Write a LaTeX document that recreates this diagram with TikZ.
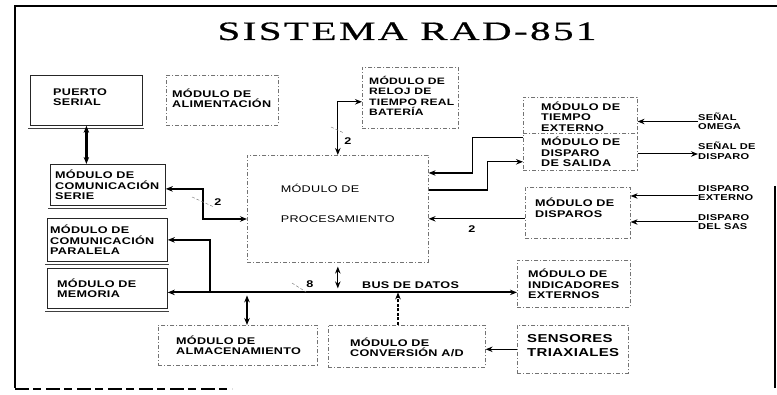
\documentclass[tikz,border=0pt]{standalone}
\usepackage{fontspec}
\setmainfont{Liberation Sans}
\newfontfamily\lblf[FakeStretch=1.3,LetterSpace=3]{Liberation Sans}
\newfontfamily\ttlf[FakeStretch=1.55,LetterSpace=9,FakeBold=0.6]{Liberation Serif}
\usetikzlibrary{arrows.meta,calc}
\tikzset{
  solidbox/.style={draw=black!85, line width=0.8pt, inner sep=0pt},
  dashbox/.style={draw=black!55, line width=0.6pt, dash pattern=on 4pt off 2pt on 1pt off 2pt, inner sep=0pt},
  lbl/.style={font=\lblf\bfseries\fontsize{9.7}{10.5}\selectfont, align=left, inner sep=0pt},
  extlbl/.style={font=\lblf\bfseries\fontsize{8.5}{9.5}\selectfont, align=left, inner sep=0pt, anchor=west},
  conn/.style={line width=1.3pt, ->},
  dconn/.style={line width=1.3pt, <->},
  extarrow/.style={line width=1pt, ->},
  slash/.style={black!50, line width=0.5pt, dash pattern=on 3pt off 2pt},
  shadowline/.style={black!75, line width=0.8pt}
}
\newcommand{\blk}[9]{%
  \node[#2, minimum width=#5pt, minimum height=#6pt, anchor=north west] (#1) at (#3,#4) {};
  \node[lbl, anchor=west] (#1-t) at ([xshift=#7pt,yshift=#8pt]#1.west) {#9};}
\begin{document}
\begin{tikzpicture}[x=1pt,y=-1pt, >={Stealth[length=7pt,width=5.5pt]}]
\useasboundingbox (0,0) rectangle (777,395);
% frame
\draw[line width=1.3pt] (15,388) -- (15,6) -- (777,6);
\draw[line width=1.3pt] (775,186) -- (775,388);
\draw[line width=1.5pt, dash pattern=on 14pt off 4pt on 8pt off 5pt] (15,389) -- (232,389);
% title
\node[font=\ttlf\fontsize{26.5}{30}\selectfont, anchor=base, inner sep=0pt] (title) at (407,40) {SISTEMA RAD-851};
% blocks
\blk{puerto}{solidbox}{30}{75}{112}{50}{23}{3}{PUERTO\\SERIAL}
\blk{alim}{dashbox}{166}{75}{112}{50}{6}{2}{MÓDULO DE\\ALIMENTACIÓN}
\node[dashbox, minimum width=96pt, minimum height=61pt, anchor=north west] (reloj) at (362,67) {};
\node[lbl, font=\lblf\bfseries\fontsize{9.3}{10.5}\selectfont, anchor=west] (reloj-t) at ([xshift=7pt,yshift=2pt]reloj.west) {MÓDULO DE\\RELOJ DE\\TIEMPO REAL\\BATERÍA};
\blk{tiempo}{dashbox}{523}{97}{114}{36}{18}{-1}{MÓDULO DE\\TIEMPO\\EXTERNO}
\blk{salida}{dashbox}{523}{133}{114}{37}{18}{0}{MÓDULO DE\\DISPARO\\DE SALIDA}
\blk{disp}{dashbox}{525}{187}{105}{51}{10}{5}{MÓDULO DE\\DISPAROS}
\blk{serie}{solidbox}{50}{164}{115}{41}{5}{0}{MÓDULO DE\\COMUNICACIÓN\\SERIE}
\blk{paral}{solidbox}{47}{218}{120}{43}{3}{0}{MÓDULO DE\\COMUNICACIÓN\\PARALELA}
\blk{memo}{solidbox}{47}{268}{120}{40}{10}{0}{MÓDULO DE\\MEMORIA}
\blk{almac}{dashbox}{158}{325}{159}{40}{18}{0}{MÓDULO DE\\ALMACENAMIENTO}
\blk{conv}{dashbox}{328}{325}{157}{42}{22}{-1}{MÓDULO DE\\CONVERSIÓN A/D}
\blk{ind}{dashbox}{517}{260}{113}{47}{11}{0}{MÓDULO DE\\INDICADORES\\EXTERNOS}
\node[dashbox, minimum width=111pt, minimum height=48pt, anchor=north west] (sens) at (517,325) {};
\node[lbl, font=\lblf\bfseries\fontsize{11.5}{14}\selectfont, anchor=west] (sens-t) at ([xshift=10pt,yshift=4pt]sens.west) {SENSORES\\TRIAXIALES};
\node[dashbox, minimum width=181pt, minimum height=107pt, anchor=north west] (proc) at (247,155) {};
\node[lbl, font=\lblf\fontsize{9.7}{30}\selectfont, anchor=center] (proc-t) at ([yshift=5pt]proc.center) {MÓDULO DE\\PROCESAMIENTO};
% shadows of solid boxes
\foreach \b in {puerto,serie,paral,memo}{
  \draw[shadowline] ([xshift=-2pt,yshift=-2.5pt]\b.south west) -- ([xshift=1pt,yshift=-2.5pt]\b.south east);
}
% external labels
\node[extlbl] (omega) at (698,121.5) {SEÑAL\\OMEGA};
\node[extlbl] (sdisp) at (698,151) {SEÑAL DE\\DISPARO};
\node[extlbl] (dext) at (698,193) {DISPARO\\EXTERNO};
\node[extlbl] (dsas) at (698,222) {DISPARO\\DEL SAS};
\draw[extarrow] (omega.west) -- (tiempo.east |- omega.west);
\coordinate (sd) at ([yshift=-3pt]sdisp.west);
\draw[extarrow] (salida.east |- sd) -- (sd);
\coordinate (de) at ([yshift=-3pt]dext.west);
\draw[extarrow] (de) -- (disp.east |- de);
\draw[extarrow] (dsas.west) -- (disp.east |- dsas.west);
% tiempo -> proc
\coordinate (p1) at ([yshift=-18pt]proc.north east);
\coordinate (j1) at ([xshift=44pt]p1);
\coordinate (t3) at ([yshift=-4pt]tiempo.south west);
\draw[conn] (t3) -| (j1) -- (p1);
% proc -> salida
\coordinate (p2) at ([yshift=-35pt]proc.north east);
\coordinate (q2) at ([yshift=-10pt]salida.west);
\coordinate (j2) at ([xshift=59pt]p2);
\draw[conn] (p2) -| (j2 |- q2) -- (q2);
% disparos -> proc
\coordinate (d5) at ([yshift=-6pt]disp.west);
\draw[conn] (d5) -- (proc.east |- d5);
\node[lbl] (n2c) at (472,229) {2};
% reloj <-> proc
\coordinate (r1) at ([yshift=-4pt]reloj.west);
\draw[dconn] (proc.north) |- (r1);
\node[lbl] (n2a) at (348,141) {2};
\draw[slash] (331,127) -- (344,133);
% serie <-> proc
\coordinate (a7) at ([yshift=-4pt]serie.east);
\coordinate (p3) at ([yshift=-64pt]proc.north west);
\coordinate (k7) at ([xshift=-44pt]p3);
\draw[dconn] (a7) -| (k7) -- (p3);
\node[lbl] (n2b) at (218,202) {2};
\draw[slash] (192,197) -- (214,207);
% puerto <-> serie
\draw[dconn, line width=2.2pt] (puerto.south) -- (puerto.south |- serie.north);
% bus
\coordinate (busL) at ([yshift=-4pt]memo.east);
\draw[dconn, line width=1.8pt] (busL) -- (ind.west |- busL);
\coordinate (brx) at (210,0);
\draw[conn] (busL -| brx) |- (paral.east);
\draw[dconn, shorten <=4pt, shorten >=4pt] (proc.south) -- (proc.south |- busL);
\coordinate (ax) at (247,0);
\draw[dconn, shorten <=3pt] (busL -| ax) -- (almac.north -| ax);
\coordinate (cx) at (398,0);
\draw[conn, dash pattern=on 3pt off 1.5pt] (conv.north -| cx) -- (busL -| cx);
\draw[conn] (sens.west) -- (conv.east |- sens.west);
\node[lbl] (n8) at (310,284) {8};
\node[lbl, anchor=west] (busl) at (362,285) {BUS DE DATOS};
\draw[slash] (292,283) -- (306,292);
\end{tikzpicture}
\end{document}
